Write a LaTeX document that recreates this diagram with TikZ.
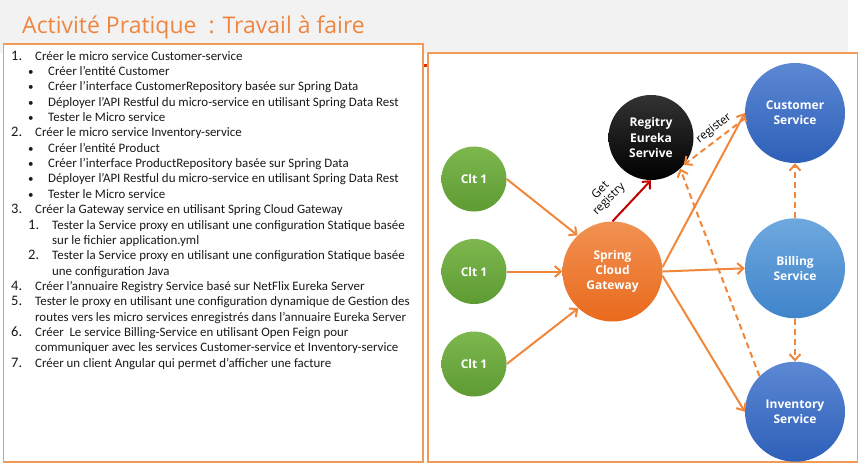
\documentclass[tikz,border=0pt]{standalone}
\usepackage{fontspec}
\setmainfont{Carlito}
\newfontfamily\osans{Open Sans}
\usetikzlibrary{arrows.meta}
\definecolor{hdr}{HTML}{F2F2F2}
\definecolor{frm}{HTML}{F29A58}
\definecolor{ttl}{HTML}{EE8642}
\definecolor{txt}{HTML}{1A1A1A}
\definecolor{conn}{HTML}{F0873A}
\definecolor{redc}{HTML}{C00000}
\definecolor{gtop}{HTML}{7DB74E}
\definecolor{gbot}{HTML}{5E9B33}
\definecolor{otop}{HTML}{F19152}
\definecolor{obot}{HTML}{E96A1C}
\definecolor{btop}{HTML}{5C88D3}
\definecolor{bbot}{HTML}{2E60B9}
\definecolor{ltop}{HTML}{6EA8DF}
\definecolor{lbot}{HTML}{3F84CA}
\begin{document}
\begin{tikzpicture}[x=1pt,y=-1pt,
  lst/.style={anchor=base west, inner sep=0pt, text=txt, font=\fontsize{12.9}{15}\selectfont},
  num/.style={anchor=base west, inner sep=0pt, text=txt, font=\fontsize{14.5}{15}\selectfont},
  bul/.style={anchor=base west, inner sep=0pt, text=txt, font=\fontsize{11}{15}\selectfont},
  circ/.style={circle, inner sep=0pt, text=white, align=center, draw=none,
     font=\osans\bfseries\fontsize{12}{15.3}\selectfont},
  clt/.style={circ, minimum size=65pt, top color=gtop, bottom color=gbot},
  gw/.style={circ, minimum size=100pt, top color=otop, bottom color=obot},
  reg/.style={circ, minimum size=85pt, top color=black!80, bottom color=black},
  svc/.style={circ, minimum size=100pt, top color=btop, bottom color=bbot},
  bsvc/.style={circ, minimum size=100pt, top color=ltop, bottom color=lbot},
  conn/.style={draw=conn, line width=2pt, -{Straight Barb[length=6pt,width=11pt,line width=2pt]}},
  dconn/.style={conn, dash pattern=on 6pt off 4pt},
  redconn/.style={draw=redc, line width=2pt, -{Straight Barb[length=6pt,width=11pt,line width=2pt]}},
  lab/.style={inner sep=0pt, text=black, align=center, font=\osans\fontsize{11.5}{12}\selectfont},
  frame/.style={draw=frm, line width=1.6pt, fill=white}
]
\useasboundingbox (0,0) rectangle (860,467);
\fill[white] (0,0) rectangle (860,467);
\fill[hdr] (0,0) rectangle (848,53);
\node[anchor=base west, inner sep=0pt, text=ttl, font=\osans\fontsize{23}{28}\selectfont] (title) at (22,33) {Activité Pratique\ \ : Travail à faire};
% frames
\draw[frame] (3.5,44) rectangle (423,462) node[pos=0, inner sep=0pt] (lbox) {};
\draw[frame] (428,53) rectangle (857.5,462) node[pos=0, inner sep=0pt] (rbox) {};
\coordinate (rb1) at (423.8,65.7);
\coordinate (rb2) at (427.2,65.7);
\draw[redc!60!orange, line width=2.5pt] (rb1) -- (rb2);
% list
\node[num] (n1) at (11,60.0) {1.};
\node[lst] (l0) at (35,60.0) {Créer le micro service Customer-service};
\node[bul] (b1) at (28,75.4) {•};
\node[lst] (l1) at (48,75.4) {Créer l’entité Customer};
\node[bul] (b2) at (28,90.7) {•};
\node[lst] (l2) at (48,90.7) {Créer l’interface CustomerRepository basée sur Spring Data};
\node[bul] (b3) at (28,106.1) {•};
\node[lst] (l3) at (48,106.1) {Déployer l’API Restful du micro-service en utilisant Spring Data Rest};
\node[bul] (b4) at (28,121.4) {•};
\node[lst] (l4) at (48,121.4) {Tester le Micro service};
\node[num] (n2) at (11,136.8) {2.};
\node[lst] (l5) at (35,136.8) {Créer le micro service Inventory-service};
\node[bul] (b6) at (28,152.2) {•};
\node[lst] (l6) at (48,152.2) {Créer l’entité Product};
\node[bul] (b7) at (28,167.5) {•};
\node[lst] (l7) at (48,167.5) {Créer l’interface ProductRepository basée sur Spring Data};
\node[bul] (b8) at (28,182.9) {•};
\node[lst] (l8) at (48,182.9) {Déployer l’API Restful du micro-service en utilisant Spring Data Rest};
\node[bul] (b9) at (28,198.2) {•};
\node[lst] (l9) at (48,198.2) {Tester le Micro service};
\node[num] (n3) at (11,213.6) {3.};
\node[lst] (l10) at (35,213.6) {Créer la Gateway service en utilisant Spring Cloud Gateway};
\node[num] (s1) at (28,229.0) {1.};
\node[lst] (l11) at (52,229.0) {Tester la Service proxy en utilisant une configuration Statique basée};
\node[lst] (l12) at (52,244.3) {sur le fichier application.yml};
\node[num] (s2) at (28,259.7) {2.};
\node[lst] (l13) at (52,259.7) {Tester la Service proxy en utilisant une configuration Statique basée};
\node[lst] (l14) at (52,275.0) {une configuration Java};
\node[num] (n4) at (11,290.4) {4.};
\node[lst] (l15) at (35,290.4) {Créer l’annuaire Registry Service basé sur NetFlix Eureka Server};
\node[num] (n5) at (11,305.8) {5.};
\node[lst] (l16) at (35,305.8) {Tester le proxy en utilisant une configuration dynamique de Gestion des};
\node[lst] (l17) at (35,321.1) {routes vers les micro services enregistrés dans l’annuaire Eureka Server};
\node[num] (n6) at (11,336.5) {6.};
\node[lst] (l18) at (35,336.5) {Créer\ \ Le service Billing-Service en utilisant Open Feign pour};
\node[lst] (l19) at (35,351.8) {communiquer avec les services Customer-service et Inventory-service};
\node[num] (n7) at (11,367.2) {7.};
\node[lst] (l20) at (35,367.2) {Créer un client Angular qui permet d’afficher une facture};
% diagram nodes
\node[clt] (c1) at (474,179) {Clt 1};
\node[clt] (c2) at (474,271.5) {Clt 1};
\node[clt] (c3) at (474,364) {Clt 1};
\node[gw] (gw) at (612.5,271.5) {Spring\\Cloud\\Gateway};
\node[reg] (reg) at (651,137.5) {Regitry\\Eureka\\Servive};
\node[svc] (cust) at (795,113) {Customer\\Service};
\node[bsvc] (bill) at (795,268.3) {Billing\\Service};
\node[svc] (inv) at (795,411.7) {Inventory\\Service};
% connectors
\draw[conn] (c1.east) -- (gw.134);
\draw[conn] (c2.east) -- (gw.west);
\draw[conn] (c3.east) -- (gw.227);
\draw[redconn] (gw.north) -- (reg.south);
\draw[conn] (gw.5) -- (cust.west);
\draw[conn] (gw.east) -- (bill.west);
\draw[conn] (gw.-5) -- (inv.west);
\draw[dconn] (cust.186) -- (reg.-40);
\draw[dconn] (inv.135) -- (reg.-47);
\draw[dconn] (bill.north) -- (cust.south);
\draw[dconn] (bill.south) -- (inv.north);
% labels
\node[lab, rotate=45] (getlab) at (605,195) {Get\\registry};
\node[lab, rotate=38] (reglab) at (714,128.5) {register};
\end{tikzpicture}
\end{document}
